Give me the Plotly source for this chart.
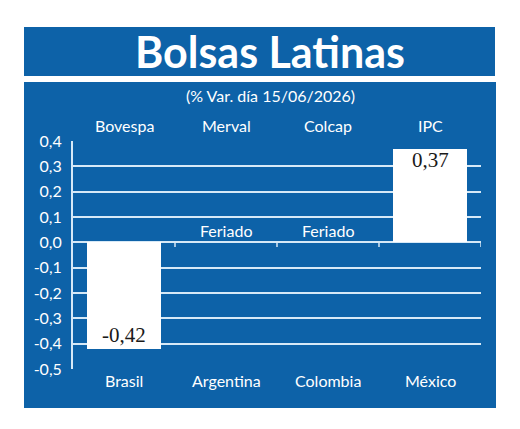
import plotly.graph_objects as go

# ---- data ----
countries = ["Brasil", "Argentina", "Colombia", "México"]
indices = ["Bovespa", "Merval", "Colcap", "IPC"]
values = [-0.42, None, None, 0.37]
value_labels = ["-0,42", "", "", "0,37"]
holiday_flags = [False, True, True, False]
holiday_text = "Feriado"
tick_vals = [0.4, 0.3, 0.2, 0.1, 0.0, -0.1, -0.2, -0.3, -0.4, -0.5]
tick_text = ["0,4", "0,3", "0,2", "0,1", "0,0", "-0,1", "-0,2", "-0,3", "-0,4", "-0,5"]
title = "Bolsas Latinas"
subtitle = "(% Var. día 15/06/2026)"

# ---- layout geometry ----
W, H = 520, 429
L, R, T, B = 73, 481, 141, 369
BLUE = "#0d62a8"
GRID = "#d6e9f7"
SANS = "Lato"


def px(x):
    return (x - L) / (R - L)


def py(y):
    return (B - y) / (B - T)


xs = list(range(len(countries)))

fig = go.Figure()
fig.add_trace(go.Bar(
    x=xs, y=values, width=0.735,
    marker=dict(color="white", line=dict(width=0)),
    hoverinfo="skip", showlegend=False,
))

shapes = [
    dict(type="rect", xref="paper", yref="paper", x0=px(24), x1=px(495),
         y0=py(76), y1=py(27), fillcolor=BLUE, line=dict(width=0), layer="below"),
    dict(type="rect", xref="paper", yref="paper", x0=px(24), x1=px(496),
         y0=py(408), y1=py(82), fillcolor=BLUE, line=dict(width=0), layer="below"),
]
# small tick marks on zero line at category boundaries
for i in range(len(countries)):
    shapes.append(dict(type="line", xref="x", yref="y", x0=i + 0.5, x1=i + 0.5,
                       y0=0, y1=-0.018, line=dict(color=GRID, width=1.5)))

annotations = [
    dict(text="<b>" + title + "</b>", xref="paper", yref="paper", x=px(270), y=py(51),
         showarrow=False, font=dict(family=SANS, size=43, color="white"),
         xanchor="center", yanchor="middle"),
    dict(text=subtitle, xref="paper", yref="paper", x=px(270), y=py(96),
         showarrow=False, font=dict(family=SANS, size=16, color="white"),
         xanchor="center", yanchor="middle"),
]
for i, name in enumerate(indices):
    annotations.append(dict(text=name, xref="x", yref="paper", x=i, y=py(125),
                            showarrow=False, font=dict(family=SANS, size=16, color="white"),
                            xanchor="center", yanchor="middle"))
for i, c in enumerate(countries):
    annotations.append(dict(text=c, xref="x", yref="paper", x=i, y=py(380),
                            showarrow=False, font=dict(family=SANS, size=16, color="white"),
                            xanchor="center", yanchor="middle"))
for i, v in enumerate(values):
    if v is not None:
        annotations.append(dict(text=value_labels[i], xref="x", yref="y", x=i, y=v,
                                yshift=(14 if v < 0 else -11), showarrow=False,
                                font=dict(family="Liberation Serif", size=21, color="#1a1a1a"),
                                xanchor="center", yanchor="middle"))
    if holiday_flags[i]:
        annotations.append(dict(text=holiday_text, xref="x", yref="y", x=i, y=0,
                                yshift=12, showarrow=False,
                                font=dict(family=SANS, size=16, color="white"),
                                xanchor="center", yanchor="middle"))

fig.update_layout(
    width=W, height=H,
    margin=dict(l=L, r=W - R, t=T, b=H - B, pad=0),
    paper_bgcolor="white", plot_bgcolor=BLUE,
    shapes=shapes, annotations=annotations,
    xaxis=dict(range=[-0.5, len(countries) - 0.5], showticklabels=False, showgrid=False,
               zeroline=False, showline=False, ticks="", fixedrange=True),
    yaxis=dict(range=[-0.5, 0.4], tickvals=tick_vals, ticktext=tick_text,
               showgrid=True, gridcolor=GRID, gridwidth=2,
               zeroline=True, zerolinecolor=GRID, zerolinewidth=2,
               showline=True, linecolor=GRID, linewidth=2,
               ticks="", ticklabelstandoff=6,
               tickfont=dict(family=SANS, size=16, color="white"), fixedrange=True),
    bargap=0,
)

fig.write_html("out.html")
